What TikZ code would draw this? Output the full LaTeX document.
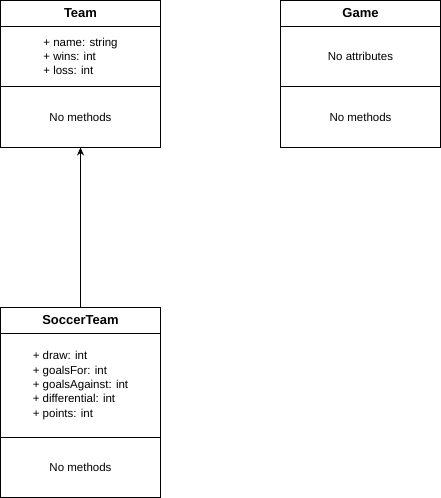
\documentclass[tikz,border=0pt]{standalone}
\usepackage{fontspec}
\setmainfont{Liberation Sans}
\usetikzlibrary{arrows.meta}
\begin{document}
\begin{tikzpicture}[x=1pt,y=-1pt,
  cell/.style={draw=black,line width=1pt,minimum width=160pt,inner sep=0pt,outer sep=0pt,anchor=north west,font=\fontsize{11.5pt}{14.3pt}\selectfont},
  attrs/.style={align=left,inner sep=0pt,font=\fontsize{11.5pt}{14.3pt}\selectfont},
  title/.style={font=\fontsize{13pt}{15pt}\selectfont\bfseries}]
\useasboundingbox (0,0) rectangle (441,498);
% Team
\node[cell,minimum height=26pt,title] (teamT) at (0.5,0.5) {Team};
\node[cell,minimum height=60pt] (teamA) at (0.5,26.5) {};
\node[cell,minimum height=61pt] (teamM) at (0.5,86.5) {No methods};
\node[attrs] (teamAt) at (teamA.center) {+ name: string\\+ wins: int\\+ loss: int};
% Game
\node[cell,minimum height=26pt,title] (gameT) at (280.5,0.5) {Game};
\node[cell,minimum height=60pt] (gameA) at (280.5,26.5) {No attributes};
\node[cell,minimum height=61pt] (gameM) at (280.5,86.5) {No methods};
% SoccerTeam
\node[cell,minimum height=26pt,title] (socT) at (0.5,307.5) {SoccerTeam};
\node[cell,minimum height=104pt] (socA) at (0.5,333.5) {};
\node[cell,minimum height=60pt] (socM) at (0.5,437.5) {No methods};
\node[attrs] (socAt) at (socA.center) {+ draw: int\\+ goalsFor: int\\+ goalsAgainst: int\\+ differential: int\\+ points: int};
% inheritance
\draw[line width=1pt,-{Stealth[length=8pt,width=7pt]}] (socT.north) -- (teamM.south);
\end{tikzpicture}
\end{document}
